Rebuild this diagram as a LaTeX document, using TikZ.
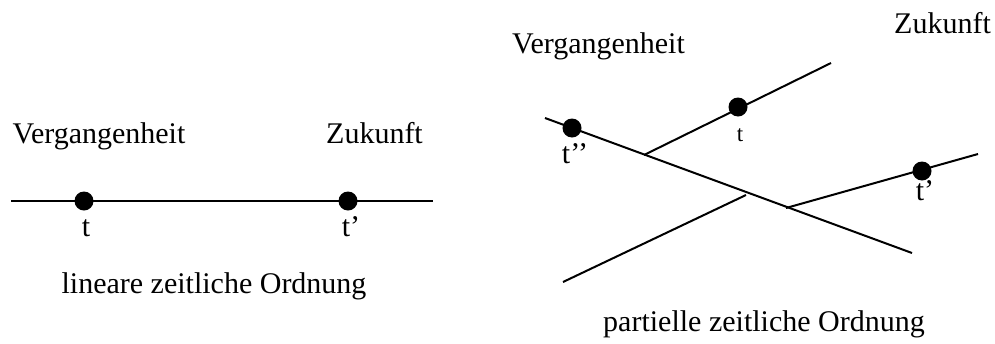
\documentclass[tikz,border=0pt]{standalone}
\usepackage{fontspec}
\setmainfont{Liberation Serif}
\begin{document}
\begin{tikzpicture}[x=0.5pt,y=-0.5pt,
  ln/.style={line width=1pt},
  dot/.style={circle,fill=black,inner sep=0pt,minimum size=9.5pt},
  lbl/.style={anchor=base,inner sep=0pt,font=\fontsize{15}{18}\selectfont},
  slbl/.style={anchor=base,inner sep=0pt,font=\fontsize{11.5}{14}\selectfont}]
\useasboundingbox (0,0) rectangle (995,343);
% left: linear order
\coordinate (la) at (11,201);
\coordinate (lb) at (433,201);
\draw[ln] (la) -- (lb);
\node[dot] (lt) at (84,201) {};
\node[dot] (ltp) at (348,201) {};
\node[lbl] (ltl) at (86,236) {t};
\node[lbl] (ltpl) at (351,236) {t’};
\node[lbl] (lv) at (99,143) {Vergangenheit};
\node[lbl] (lz) at (374.5,143) {Zukunft};
\node[lbl] (lcap) at (214,293) {lineare zeitliche Ordnung};
% right: partial order
\coordinate (ma) at (545,118);
\coordinate (mb) at (912,253);
\draw[ln] (ma) -- (mb);
\coordinate (ua) at (644,155);
\coordinate (ub) at (831,63);
\draw[ln] (ua) -- (ub);
\coordinate (ba) at (563,282);
\coordinate (bb) at (746,195);
\draw[ln] (ba) -- (bb);
\coordinate (ra) at (786,208);
\coordinate (rb) at (978,154);
\draw[ln] (ra) -- (rb);
\node[dot] (rtpp) at (572,128) {};
\node[dot] (rt) at (738,107) {};
\node[dot] (rtp) at (922,171) {};
\node[lbl] (rtppl) at (575,163) {t’’};
\node[slbl] (rtl) at (740,141) {t};
\node[lbl] (rtpl) at (925,200) {t’};
\node[lbl] (rv) at (598.5,53) {Vergangenheit};
\node[lbl] (rz) at (942.5,33) {Zukunft};
\node[lbl] (rcap) at (764,331) {partielle zeitliche Ordnung};
\end{tikzpicture}
\end{document}
